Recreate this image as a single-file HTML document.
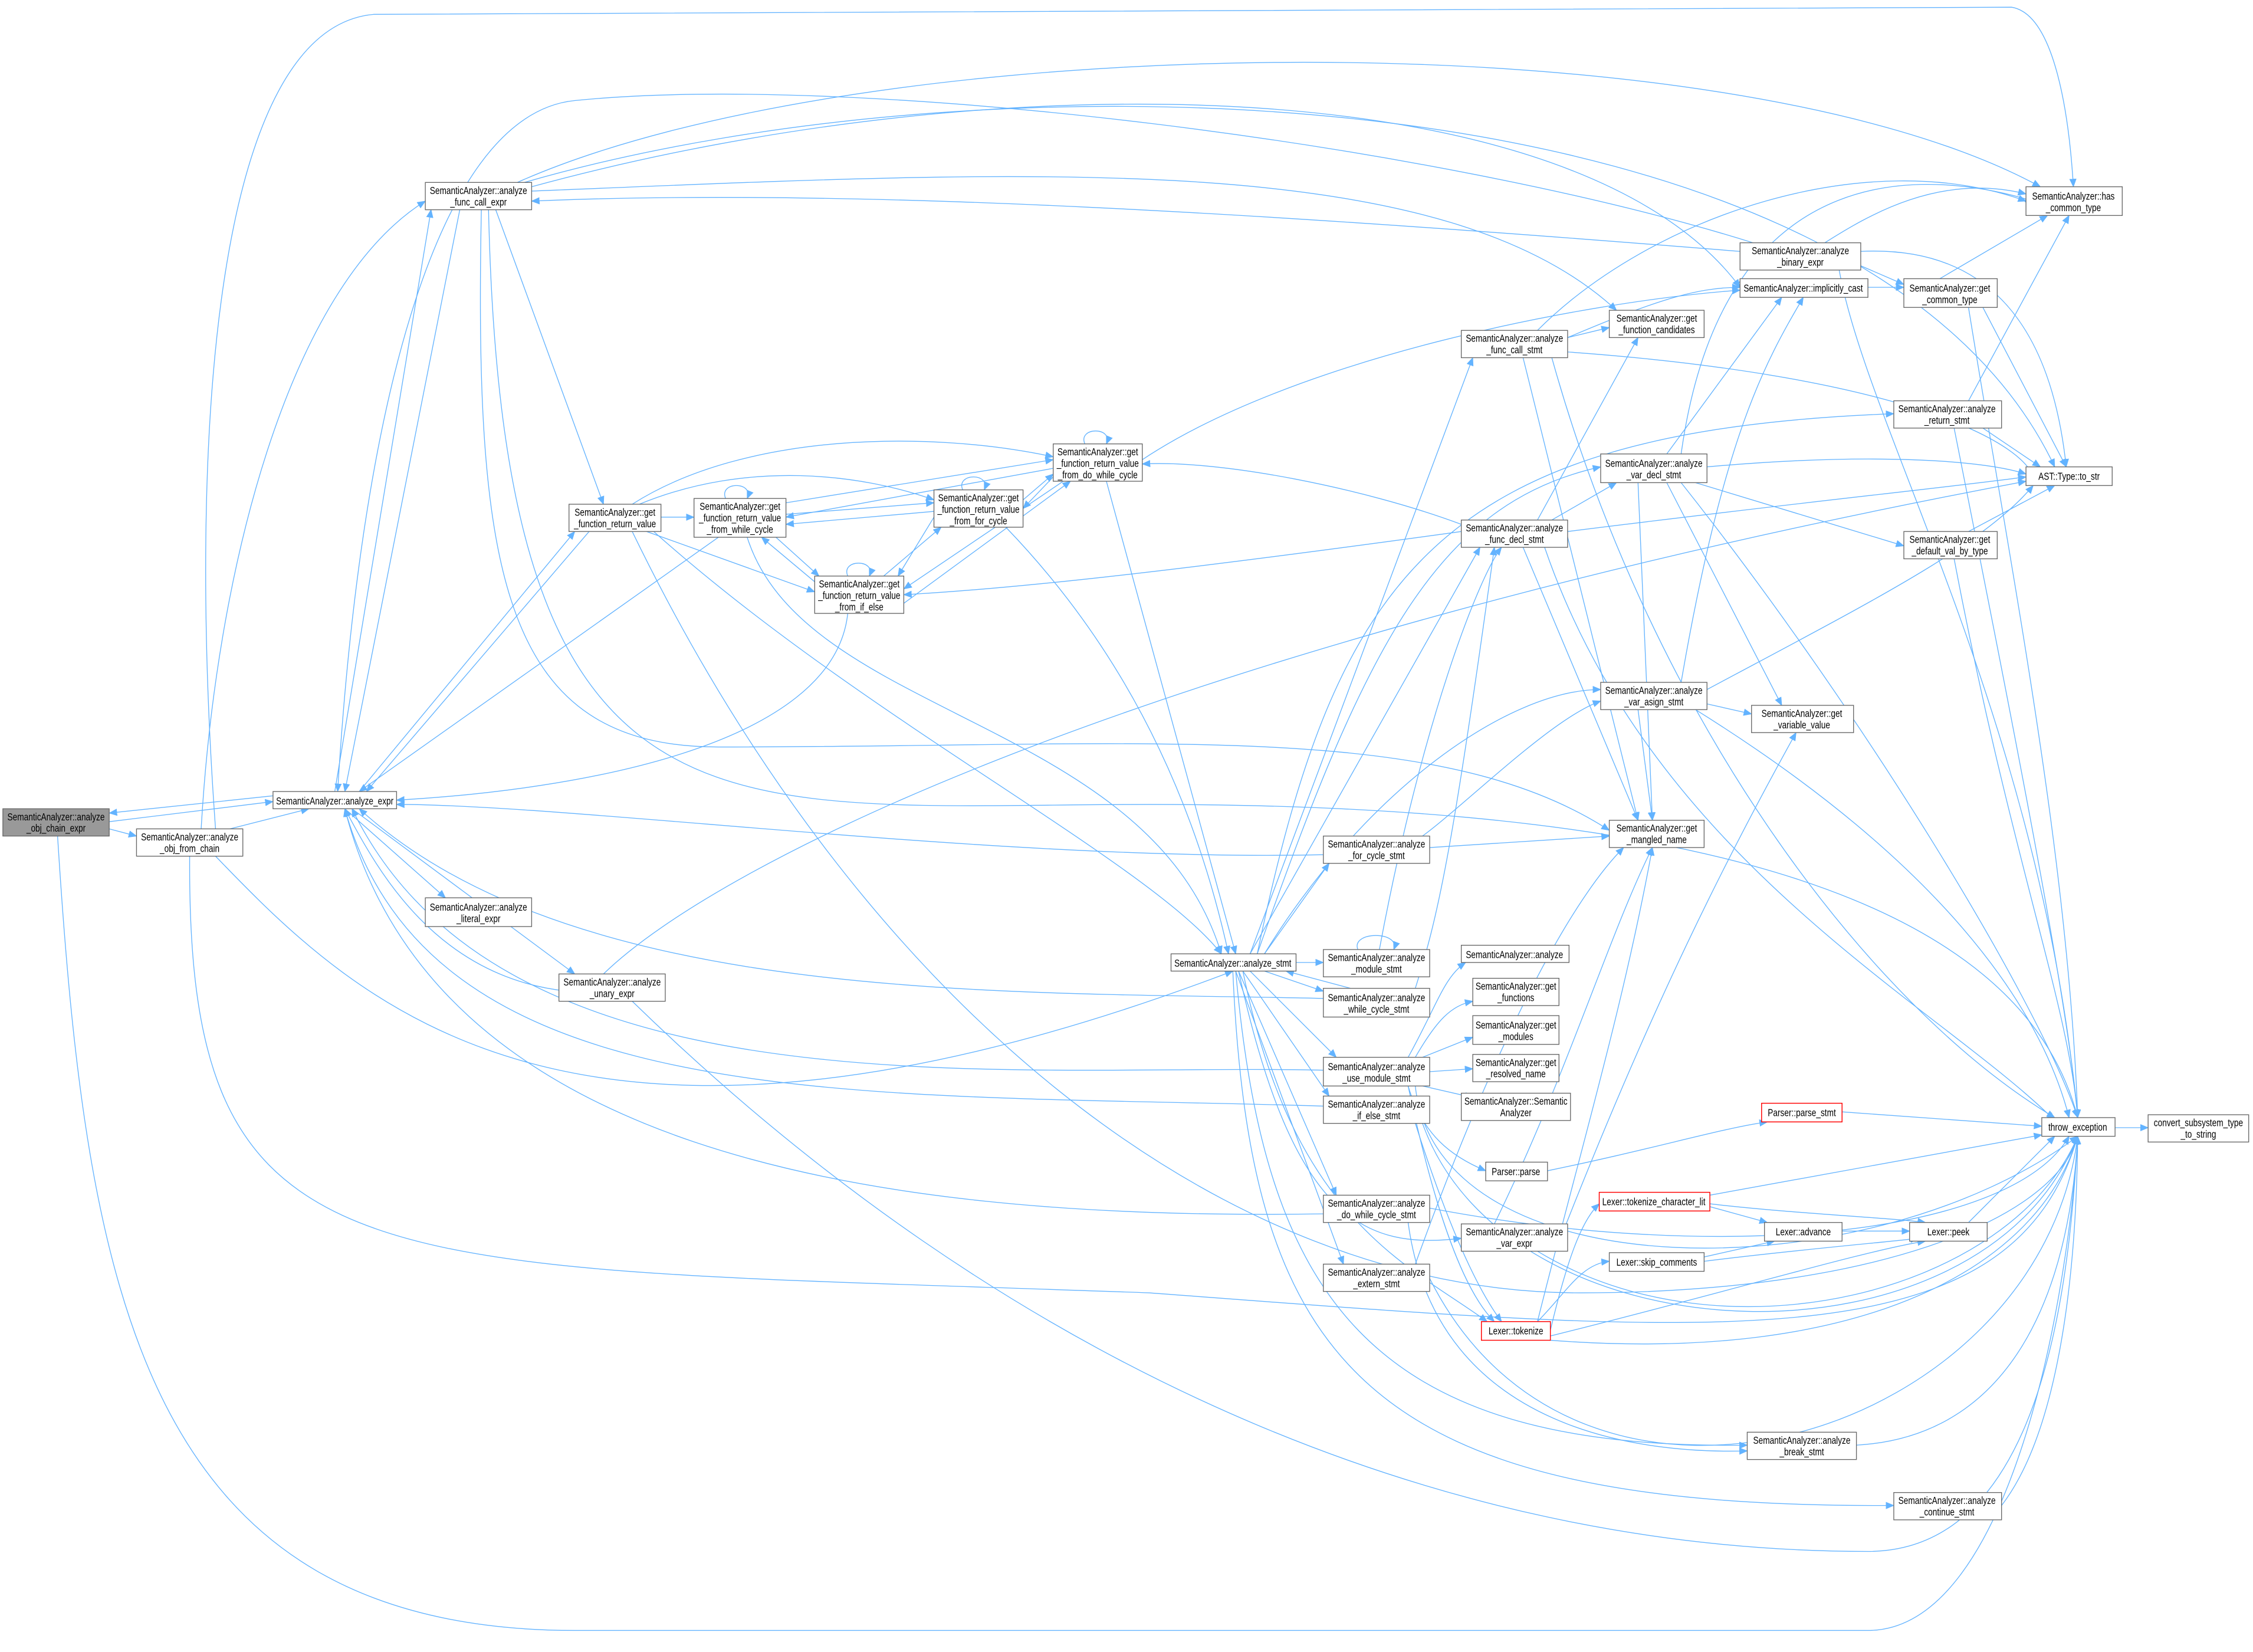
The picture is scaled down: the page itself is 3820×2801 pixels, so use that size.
<!DOCTYPE html>
<html><head><meta charset="utf-8"><style>
html,body{margin:0;padding:0;background:#fff;}
svg{display:block;}
.e{fill:none;stroke:#63b3ff;stroke-width:0.55;}
.n{fill:#fff;stroke:#666;stroke-width:0.55;}
text{font-family:"Liberation Sans",sans-serif;font-size:7.2px;fill:#000;text-anchor:middle;}
</style></head><body>
<svg width="3820" height="2801" viewBox="0 0 1568 1150" preserveAspectRatio="none" xmlns="http://www.w3.org/2000/svg">
<defs><marker id="a" markerWidth="6" markerHeight="5" refX="5.5" refY="2.5" orient="auto" markerUnits="userSpaceOnUse"><path d="M0,0 L6,2.5 L0,5 z" fill="#63b3ff"/></marker></defs>
<g class="e" marker-end="url(#a)">
<path d="M76,577 L95,582"/><path d="M76,572 L190,558"/><path d="M190,554 L76,566"/><path d="M160,577 L215,563"/>
<path d="M40,581 C60,900 100,1135 400,1135 L1300,1135 C1400,1135 1440,900 1446,791"/>
<path d="M132,596 C130,900 250,880 800,900 C1200,930 1400,950 1446,791"/>
<path d="M150,596 C250,700 400,850 858,676"/>
<path d="M140,577 C150,400 200,200 296,140"/>
<path d="M150,577 C130,300 150,20 260,10 L1400,5 C1430,10 1440,80 1443,130"/>
<path d="M233,551 L300,146"/><path d="M320,146 L240,551"/><path d="M240,563 L310,625"/><path d="M245,563 L400,678"/>
<path d="M395,690 C300,680 260,600 240,563"/><path d="M250,551 L400,370"/><path d="M410,370 L255,551"/><path d="M500,374 L250,551"/>
<path d="M590,427 C580,520 400,550 276,557"/><path d="M921,695 C700,690 400,700 250,563"/><path d="M921,745 C700,740 350,780 245,563"/>
<path d="M921,595 C700,600 400,560 276,560"/><path d="M921,845 C600,850 300,800 240,563"/><path d="M921,770 C600,760 300,780 240,563"/>
<path d="M440,697 C700,950 1000,1080 1300,1080 C1420,1080 1440,900 1446,791"/><path d="M420,678 C500,600 800,450 1410,335"/>
<path d="M345,146 L420,351"/><path d="M370,133 C700,120 1000,100 1125,216"/><path d="M370,130 C700,40 1100,50 1211,200"/>
<path d="M360,127 C600,20 1200,10 1420,130"/><path d="M365,127 C700,30 1300,50 1430,325"/>
<path d="M335,146 C330,400 350,520 500,520 C800,520 1000,500 1120,578"/>
<path d="M340,146 C350,600 500,560 800,560 C1100,560 1400,600 1446,778"/>
<path d="M1211,175 C900,150 600,130 370,140"/><path d="M1220,169 C1000,100 600,50 400,70 C300,80 250,300 235,551"/>
<path d="M1295,185 L1325,198"/><path d="M1270,169 C1300,150 1350,120 1410,135"/><path d="M1295,175 C1400,170 1430,250 1438,325"/>
<path d="M1280,188 C1300,300 1420,500 1446,778"/><path d="M1300,200 L1325,200"/><path d="M1350,194 L1425,150"/>
<path d="M1380,214 L1438,325"/><path d="M1370,214 C1400,400 1440,600 1446,778"/>
<path d="M460,360 L483,360"/><path d="M450,370 L567,412"/><path d="M445,351 C520,320 600,330 650,348"/><path d="M440,351 C520,300 650,300 733,318"/>
<path d="M455,370 C600,500 800,600 850,664"/><path d="M440,370 C600,700 850,900 1100,900 C1300,900 1430,850 1446,791"/>
<path d="M547,358 L650,350"/><path d="M650,356 L547,365"/><path d="M540,374 L570,401"/><path d="M567,405 L530,374"/>
<path d="M547,350 L733,320"/><path d="M733,326 L547,360"/><path d="M712,348 L733,330"/><path d="M733,332 L712,354"/>
<path d="M650,360 L625,401"/><path d="M615,401 L655,367"/><path d="M740,335 L629,410"/><path d="M629,420 L745,335"/>
<path d="M505,347 C500,335 525,335 520,347"/><path d="M670,341 C665,329 690,329 685,341"/><path d="M755,309 C750,297 775,297 770,309"/><path d="M590,401 C585,389 610,389 605,401"/>
<path d="M520,374 C560,500 800,500 850,664"/><path d="M700,367 C780,450 830,550 855,664"/><path d="M770,335 L860,664"/>
<path d="M795,320 C900,250 1100,210 1211,202"/>
<path d="M902,670 L921,670"/><path d="M880,676 L921,690"/><path d="M940,688 L895,676"/><path d="M870,676 L930,736"/>
<path d="M865,676 L925,763"/><path d="M880,664 L925,601"/><path d="M862,676 L930,832"/><path d="M860,676 L935,880"/>
<path d="M870,664 L1025,249"/><path d="M870,664 L1030,381"/><path d="M875,664 C950,450 1000,350 1114,325"/>
<path d="M880,664 C950,550 1050,480 1114,480"/><path d="M862,676 C900,850 950,870 1017,862"/>
<path d="M860,676 C880,900 950,1010 1216,1006"/><path d="M858,676 C870,950 950,1050 1318,1048"/>
<path d="M875,664 C930,400 1000,300 1318,288"/><path d="M865,676 C900,850 980,880 1035,920"/>
<path d="M945,661 C940,648 975,648 970,661"/><path d="M960,661 C990,500 1030,400 1045,381"/>
<path d="M985,688 C1000,640 1010,600 1040,381"/>
<path d="M980,736 C1000,700 1005,680 1020,670"/><path d="M985,736 C1000,710 1010,700 1025,697"/><path d="M990,736 L1025,722"/>
<path d="M995,746 L1025,744"/><path d="M990,756 L1025,764"/><path d="M980,756 C990,790 1010,805 1034,815"/>
<path d="M985,756 C1000,900 1300,900 1446,791"/><path d="M980,756 C1000,850 1020,900 1040,920"/>
<path d="M985,782 C1010,860 1030,900 1045,920"/><path d="M990,782 C1050,950 1380,960 1446,791"/>
<path d="M990,582 C1020,560 1080,500 1114,488"/><path d="M995,590 L1120,582"/>
<path d="M995,841 C1200,880 1400,860 1440,791"/><path d="M980,851 C1000,1000 1150,1012 1216,1010"/>
<path d="M985,880 C1050,700 1100,620 1130,590"/><path d="M995,890 C1100,1100 1420,1000 1446,791"/>
<path d="M1091,235 L1120,228"/><path d="M1091,235 C1150,210 1180,200 1211,200"/><path d="M1070,230 C1150,150 1300,100 1410,140"/>
<path d="M1091,245 C1300,260 1400,300 1415,331"/><path d="M1060,249 L1140,571"/><path d="M1080,249 C1150,500 1300,700 1430,778"/>
<path d="M1017,365 C950,340 850,320 795,323"/><path d="M1017,370 C800,400 700,410 629,414"/><path d="M1080,362 L1125,336"/>
<path d="M1070,362 L1140,235"/><path d="M1060,381 L1140,571"/><path d="M1075,381 C1150,600 1350,700 1430,780"/>
<path d="M1091,370 C1250,350 1350,340 1410,332"/>
<path d="M1160,316 L1240,207"/><path d="M1170,316 C1200,100 1350,120 1415,140"/><path d="M1188,325 C1300,315 1380,320 1410,330"/>
<path d="M1180,336 L1325,380"/><path d="M1160,336 L1240,491"/><path d="M1140,336 L1150,571"/><path d="M1170,336 C1300,500 1420,700 1446,778"/>
<path d="M1188,490 L1219,497"/><path d="M1170,475 C1200,300 1230,250 1255,207"/><path d="M1188,480 C1300,420 1380,380 1415,338"/>
<path d="M1140,494 L1150,571"/><path d="M1180,494 C1350,600 1420,700 1440,778"/>
<path d="M1370,279 L1440,150"/><path d="M1380,298 L1420,325"/><path d="M1360,298 C1400,500 1440,700 1446,778"/>
<path d="M1370,370 L1430,338"/><path d="M1360,389 C1400,600 1440,700 1446,778"/>
<path d="M1040,852 C1090,750 1120,650 1150,590"/><path d="M1070,871 C1200,950 1400,900 1446,791"/><path d="M1090,852 C1150,700 1200,600 1250,510"/>
<path d="M1079,926 C1090,880 1100,850 1113,838"/><path d="M1070,920 C1090,900 1100,880 1120,878"/><path d="M1079,930 C1200,900 1300,870 1340,864"/>
<path d="M1079,933 C1300,950 1420,880 1446,791"/><path d="M1070,920 C1100,800 1130,700 1150,590"/>
<path d="M1190,840 L1230,851"/><path d="M1190,838 C1250,845 1320,848 1340,851"/><path d="M1190,832 L1421,790"/>
<path d="M1282,857 L1329,857"/><path d="M1186,875 L1235,864"/><path d="M1186,878 C1250,870 1320,864 1335,862"/><path d="M1370,851 L1430,791"/>
<path d="M1282,774 L1421,784"/><path d="M1077,815 C1150,800 1200,785 1230,781"/><path d="M1472,785 L1495,785"/>
<path d="M1292,1006 C1400,1000 1440,900 1446,791"/><path d="M1393,1048 C1430,1000 1445,900 1446,791"/>
</g>
<g>
<rect x="2" y="563" width="74" height="19" fill="#999" stroke="#666" stroke-width="0.55"/>
<rect class="n" x="95" y="577" width="74" height="19"/>
<rect class="n" x="190" y="551" width="86" height="12"/>
<rect class="n" x="296" y="127" width="74" height="19"/>
<rect class="n" x="296" y="625" width="74" height="20"/>
<rect class="n" x="389" y="678" width="74" height="19"/>
<rect class="n" x="396" y="351" width="64" height="19"/>
<rect class="n" x="483" y="347" width="64" height="27"/>
<rect class="n" x="650" y="341" width="62" height="26"/>
<rect class="n" x="733" y="309" width="62" height="26"/>
<rect class="n" x="567" y="401" width="62" height="26"/>
<rect class="n" x="815" y="664" width="87" height="12"/>
<rect class="n" x="921" y="661" width="74" height="19"/>
<rect class="n" x="921" y="688" width="74" height="20"/>
<rect class="n" x="921" y="736" width="74" height="20"/>
<rect class="n" x="921" y="763" width="74" height="19"/>
<rect class="n" x="921" y="582" width="74" height="19"/>
<rect class="n" x="921" y="832" width="74" height="19"/>
<rect class="n" x="921" y="880" width="74" height="19"/>
<rect class="n" x="1017" y="230" width="74" height="19"/>
<rect class="n" x="1017" y="362" width="74" height="19"/>
<rect class="n" x="1114" y="316" width="74" height="20"/>
<rect class="n" x="1114" y="475" width="74" height="19"/>
<rect class="n" x="1017" y="658" width="75" height="12"/>
<rect class="n" x="1025" y="681" width="60" height="19"/>
<rect class="n" x="1025" y="707" width="60" height="20"/>
<rect class="n" x="1025" y="734" width="60" height="19"/>
<rect class="n" x="1017" y="761" width="76" height="19"/>
<rect class="n" x="1034" y="809" width="43" height="13"/>
<rect class="n" x="1017" y="852" width="74" height="19"/>
<rect x="1031" y="920" width="48" height="13" fill="#fff" stroke="#f00" stroke-width="0.6"/>
<rect class="n" x="1211" y="169" width="84" height="19"/>
<rect class="n" x="1211" y="194" width="89" height="13"/>
<rect class="n" x="1120" y="216" width="66" height="19"/>
<rect class="n" x="1325" y="194" width="65" height="20"/>
<rect class="n" x="1410" y="130" width="67" height="20"/>
<rect class="n" x="1318" y="279" width="75" height="19"/>
<rect class="n" x="1410" y="325" width="60" height="13"/>
<rect class="n" x="1325" y="370" width="65" height="19"/>
<rect class="n" x="1219" y="491" width="71" height="19"/>
<rect class="n" x="1120" y="571" width="66" height="19"/>
<rect x="1226" y="768" width="56" height="13" fill="#fff" stroke="#f00" stroke-width="0.6"/>
<rect class="n" x="1421" y="778" width="51" height="13"/>
<rect class="n" x="1495" y="776" width="70" height="19"/>
<rect x="1113" y="830" width="77" height="13" fill="#fff" stroke="#f00" stroke-width="0.6"/>
<rect class="n" x="1228" y="851" width="54" height="13"/>
<rect class="n" x="1329" y="851" width="54" height="13"/>
<rect class="n" x="1120" y="872" width="66" height="13"/>
<rect class="n" x="1216" y="997" width="76" height="19"/>
<rect class="n" x="1318" y="1039" width="75" height="19"/>
</g>
<g>
<text transform="translate(39,571) scale(0.78,1)">SemanticAnalyzer::analyze</text><text transform="translate(39,579) scale(0.78,1)">_obj_chain_expr</text>
<text transform="translate(132,585) scale(0.78,1)">SemanticAnalyzer::analyze</text><text transform="translate(132,593) scale(0.78,1)">_obj_from_chain</text>
<text transform="translate(233,560) scale(0.78,1)">SemanticAnalyzer::analyze_expr</text>
<text transform="translate(333,135) scale(0.78,1)">SemanticAnalyzer::analyze</text><text transform="translate(333,143) scale(0.78,1)">_func_call_expr</text>
<text transform="translate(333,634) scale(0.78,1)">SemanticAnalyzer::analyze</text><text transform="translate(333,642) scale(0.78,1)">_literal_expr</text>
<text transform="translate(426,686) scale(0.78,1)">SemanticAnalyzer::analyze</text><text transform="translate(426,694) scale(0.78,1)">_unary_expr</text>
<text transform="translate(428,359) scale(0.78,1)">SemanticAnalyzer::get</text><text transform="translate(428,367) scale(0.78,1)">_function_return_value</text>
<text transform="translate(515,355) scale(0.78,1)">SemanticAnalyzer::get</text><text transform="translate(515,363) scale(0.78,1)">_function_return_value</text><text transform="translate(515,371) scale(0.78,1)">_from_while_cycle</text>
<text transform="translate(681,349) scale(0.78,1)">SemanticAnalyzer::get</text><text transform="translate(681,357) scale(0.78,1)">_function_return_value</text><text transform="translate(681,365) scale(0.78,1)">_from_for_cycle</text>
<text transform="translate(764,317) scale(0.78,1)">SemanticAnalyzer::get</text><text transform="translate(764,325) scale(0.78,1)">_function_return_value</text><text transform="translate(764,333) scale(0.78,1)">_from_do_while_cycle</text>
<text transform="translate(598,409) scale(0.78,1)">SemanticAnalyzer::get</text><text transform="translate(598,417) scale(0.78,1)">_function_return_value</text><text transform="translate(598,425) scale(0.78,1)">_from_if_else</text>
<text transform="translate(858,673) scale(0.78,1)">SemanticAnalyzer::analyze_stmt</text>
<text transform="translate(958,669) scale(0.78,1)">SemanticAnalyzer::analyze</text><text transform="translate(958,677) scale(0.78,1)">_module_stmt</text>
<text transform="translate(958,697) scale(0.78,1)">SemanticAnalyzer::analyze</text><text transform="translate(958,705) scale(0.78,1)">_while_cycle_stmt</text>
<text transform="translate(958,745) scale(0.78,1)">SemanticAnalyzer::analyze</text><text transform="translate(958,753) scale(0.78,1)">_use_module_stmt</text>
<text transform="translate(958,771) scale(0.78,1)">SemanticAnalyzer::analyze</text><text transform="translate(958,779) scale(0.78,1)">_if_else_stmt</text>
<text transform="translate(958,590) scale(0.78,1)">SemanticAnalyzer::analyze</text><text transform="translate(958,598) scale(0.78,1)">_for_cycle_stmt</text>
<text transform="translate(958,840) scale(0.78,1)">SemanticAnalyzer::analyze</text><text transform="translate(958,848) scale(0.78,1)">_do_while_cycle_stmt</text>
<text transform="translate(958,888) scale(0.78,1)">SemanticAnalyzer::analyze</text><text transform="translate(958,896) scale(0.78,1)">_extern_stmt</text>
<text transform="translate(1054,238) scale(0.78,1)">SemanticAnalyzer::analyze</text><text transform="translate(1054,246) scale(0.78,1)">_func_call_stmt</text>
<text transform="translate(1054,370) scale(0.78,1)">SemanticAnalyzer::analyze</text><text transform="translate(1054,378) scale(0.78,1)">_func_decl_stmt</text>
<text transform="translate(1151,325) scale(0.78,1)">SemanticAnalyzer::analyze</text><text transform="translate(1151,333) scale(0.78,1)">_var_decl_stmt</text>
<text transform="translate(1151,483) scale(0.78,1)">SemanticAnalyzer::analyze</text><text transform="translate(1151,491) scale(0.78,1)">_var_asign_stmt</text>
<text transform="translate(1054,667) scale(0.78,1)">SemanticAnalyzer::analyze</text>
<text transform="translate(1055,689) scale(0.78,1)">SemanticAnalyzer::get</text><text transform="translate(1055,697) scale(0.78,1)">_functions</text>
<text transform="translate(1055,716) scale(0.78,1)">SemanticAnalyzer::get</text><text transform="translate(1055,724) scale(0.78,1)">_modules</text>
<text transform="translate(1055,742) scale(0.78,1)">SemanticAnalyzer::get</text><text transform="translate(1055,750) scale(0.78,1)">_resolved_name</text>
<text transform="translate(1055,769) scale(0.78,1)">SemanticAnalyzer::Semantic</text><text transform="translate(1055,777) scale(0.78,1)">Analyzer</text>
<text transform="translate(1055,818) scale(0.78,1)">Parser::parse</text>
<text transform="translate(1054,860) scale(0.78,1)">SemanticAnalyzer::analyze</text><text transform="translate(1054,868) scale(0.78,1)">_var_expr</text>
<text transform="translate(1055,929) scale(0.78,1)">Lexer::tokenize</text>
<text transform="translate(1253,177) scale(0.78,1)">SemanticAnalyzer::analyze</text><text transform="translate(1253,185) scale(0.78,1)">_binary_expr</text>
<text transform="translate(1255,203) scale(0.78,1)">SemanticAnalyzer::implicitly_cast</text>
<text transform="translate(1153,224) scale(0.78,1)">SemanticAnalyzer::get</text><text transform="translate(1153,232) scale(0.78,1)">_function_candidates</text>
<text transform="translate(1357,203) scale(0.78,1)">SemanticAnalyzer::get</text><text transform="translate(1357,211) scale(0.78,1)">_common_type</text>
<text transform="translate(1443,139) scale(0.78,1)">SemanticAnalyzer::has</text><text transform="translate(1443,147) scale(0.78,1)">_common_type</text>
<text transform="translate(1355,287) scale(0.78,1)">SemanticAnalyzer::analyze</text><text transform="translate(1355,295) scale(0.78,1)">_return_stmt</text>
<text transform="translate(1440,334) scale(0.78,1)">AST::Type::to_str</text>
<text transform="translate(1357,378) scale(0.78,1)">SemanticAnalyzer::get</text><text transform="translate(1357,386) scale(0.78,1)">_default_val_by_type</text>
<text transform="translate(1254,499) scale(0.78,1)">SemanticAnalyzer::get</text><text transform="translate(1254,507) scale(0.78,1)">_variable_value</text>
<text transform="translate(1153,579) scale(0.78,1)">SemanticAnalyzer::get</text><text transform="translate(1153,587) scale(0.78,1)">_mangled_name</text>
<text transform="translate(1254,777) scale(0.78,1)">Parser::parse_stmt</text>
<text transform="translate(1446,787) scale(0.78,1)">throw_exception</text>
<text transform="translate(1530,784) scale(0.78,1)">convert_subsystem_type</text><text transform="translate(1530,792) scale(0.78,1)">_to_string</text>
<text transform="translate(1151,839) scale(0.78,1)">Lexer::tokenize_character_lit</text>
<text transform="translate(1255,860) scale(0.78,1)">Lexer::advance</text>
<text transform="translate(1356,860) scale(0.78,1)">Lexer::peek</text>
<text transform="translate(1153,881) scale(0.78,1)">Lexer::skip_comments</text>
<text transform="translate(1254,1005) scale(0.78,1)">SemanticAnalyzer::analyze</text><text transform="translate(1254,1013) scale(0.78,1)">_break_stmt</text>
<text transform="translate(1355,1047) scale(0.78,1)">SemanticAnalyzer::analyze</text><text transform="translate(1355,1055) scale(0.78,1)">_continue_stmt</text>
</g>
</svg>
</body></html>
